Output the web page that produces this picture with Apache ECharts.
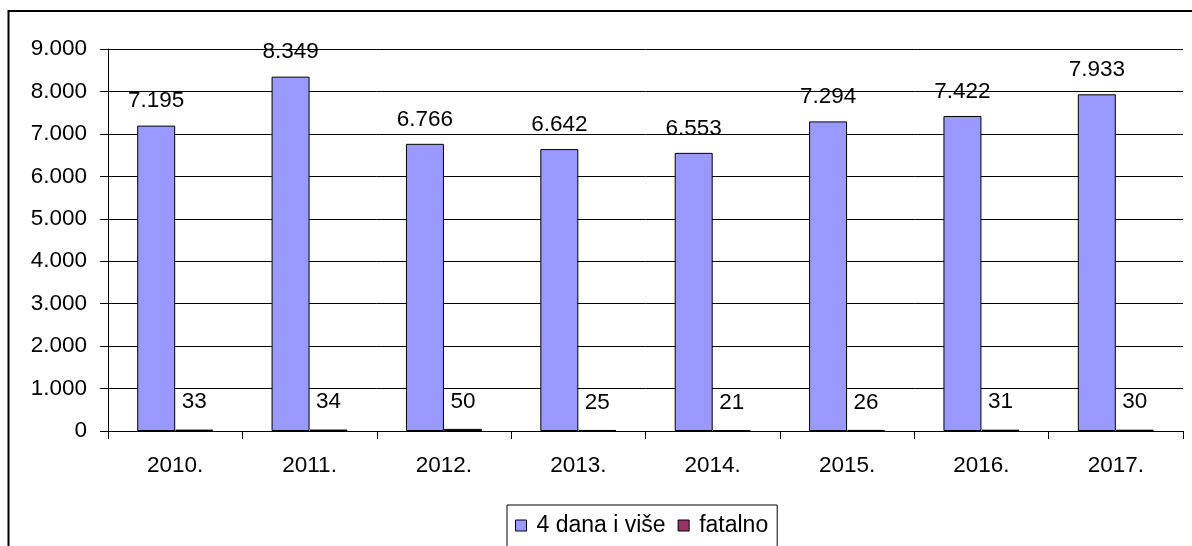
<!DOCTYPE html>
<html>
<head>
<meta charset="utf-8">
<script src="https://cdn.jsdelivr.net/npm/echarts@6/dist/echarts.min.js"></script>
<style>
html,body{margin:0;padding:0;background:#fff;}
#chart{width:1192px;height:546px;}
</style>
</head>
<body>
<div id="chart"></div>
<script>
const categories = ['2010.', '2011.', '2012.', '2013.', '2014.', '2015.', '2016.', '2017.'];
const seriesNames = ['4 dana i više', 'fatalno'];
const dana4 = [7195, 8349, 6766, 6642, 6553, 7294, 7422, 7933];
const fatalno = [33, 34, 50, 25, 21, 26, 31, 30];
const yTicks = { min: 0, max: 9000, interval: 1000 };

function fmt(v) {
  return String(Math.round(v)).replace(/\B(?=(\d{3})+(?!\d))/g, '.');
}
const FONT = "'Liberation Sans', Arial, sans-serif";

const chart = echarts.init(document.getElementById('chart'), null, { renderer: 'canvas' });
chart.setOption({
  animation: false,
  backgroundColor: '#fff',
  textStyle: { fontFamily: FONT, color: '#000' },
  graphic: [{
    type: 'rect',
    shape: { x: 8.5, y: 11, width: 1300, height: 700 },
    style: { fill: 'none', stroke: '#000', lineWidth: 2 },
    silent: true, z: -1
  }],
  grid: { left: 108, right: 9, top: 49, bottom: 115, containLabel: false },
  legend: {
    left: 507, top: 505,
    orient: 'horizontal',
    padding: [9, 9, 20, 8],
    itemGap: 12,
    itemWidth: 11, itemHeight: 11,
    icon: 'rect',
    borderColor: '#000', borderWidth: 1,
    backgroundColor: '#fff',
    itemStyle: { borderColor: '#000', borderWidth: 1 },
    textStyle: { fontFamily: FONT, fontSize: 23, color: '#000', padding: [0, 0, 0, 5] },
    data: seriesNames
  },
  xAxis: {
    type: 'category',
    data: categories,
    boundaryGap: true,
    axisLine: { show: true, lineStyle: { color: '#000', width: 1 } },
    axisTick: { show: true, alignWithLabel: false, length: 8, lineStyle: { color: '#000', width: 1 } },
    axisLabel: { fontFamily: FONT, fontSize: 22.5, color: '#000', margin: 23 },
    splitLine: { show: false }
  },
  yAxis: {
    type: 'value',
    min: yTicks.min, max: yTicks.max, interval: yTicks.interval,
    axisLine: { show: true, lineStyle: { color: '#000', width: 1 } },
    axisTick: { show: true, length: 8, lineStyle: { color: '#000', width: 1 } },
    axisLabel: { fontFamily: FONT, fontSize: 22.5, color: '#000', margin: 21, formatter: fmt },
    splitLine: { show: true, lineStyle: { color: '#000', width: 1 } }
  },
  series: [
    {
      name: seriesNames[0], type: 'bar', data: dana4,
      barWidth: 38, barGap: '0%',
      itemStyle: { color: '#9999FF', borderColor: '#000', borderWidth: 1 },
      label: { show: true, position: 'top', distance: 13, fontFamily: FONT, fontSize: 22.5, color: '#000',
        formatter: p => fmt(p.value) }
    },
    {
      name: seriesNames[1], type: 'bar', data: fatalno,
      barWidth: 38, barGap: '0%',
      itemStyle: { color: '#993366', borderColor: '#000', borderWidth: 1 },
      label: { show: true, position: 'top', distance: 16, fontFamily: FONT, fontSize: 22.5, color: '#000',
        formatter: p => fmt(p.value) }
    }
  ]
});
</script>
</body>
</html>
